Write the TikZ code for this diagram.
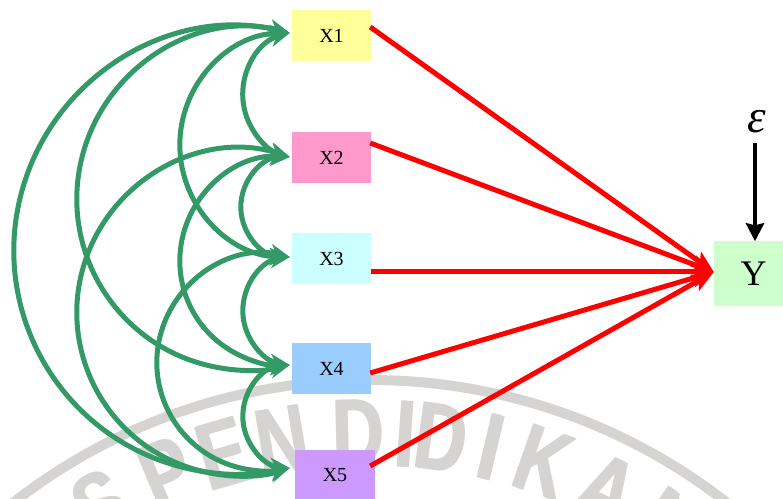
\documentclass[tikz,border=0pt]{standalone}
\usepackage{graphicx}
\usepackage{fontspec}
\setmainfont{Liberation Serif}
\newfontfamily\wmfont{Liberation Sans}
\usetikzlibrary{arrows.meta,calc}

\definecolor{fillA}{HTML}{FFFF99}
\definecolor{fillB}{HTML}{FF99CC}
\definecolor{fillC}{HTML}{CCFFFF}
\definecolor{fillD}{HTML}{99CCFF}
\definecolor{fillE}{HTML}{CC99FF}
\definecolor{fillY}{HTML}{CCFFCC}
\definecolor{corrgreen}{HTML}{339966}
\definecolor{wmgray}{RGB}{213,212,211}

% heavy, narrow seal letter: the glyph set twice, slightly apart
\newcommand\sealchar[1]{\scalebox{0.74}[1]{\rlap{#1}\kern3pt#1}}

\tikzset{
  var/.style={minimum width=79pt, minimum height=51pt, inner sep=0pt,
              font=\fontsize{20}{24}\selectfont},
  corr/.style={draw=corrgreen, line width=5pt,
               {Stealth[length=20pt,width=17pt,inset=6pt]}-{Stealth[length=20pt,width=17pt,inset=6pt]}},
  effect/.style={draw=red, line width=5pt,
                 -{Stealth[length=22pt,width=18pt,inset=5pt]}},
  errarrow/.style={draw=black, line width=4.5pt,
                   -{Stealth[length=18pt,width=18pt,inset=2pt]}},
  wmletter/.style={text=wmgray, inner sep=0pt,
                   font=\wmfont\bfseries\fontsize{96}{96}\selectfont},
}

% double-headed correlation arc on the left of two stacked variables:
% #1 upper end, #2 lower end, #3 how far the arc bulges to the left
\newcommand\corrarc[3]{%
  \path (#1); \pgfgetlastxy{\cxa}{\cya}%
  \path (#2); \pgfgetlastxy{\cxb}{\cyb}%
  \pgfmathsetmacro\chh{(\cya-\cyb)/2}%
  \pgfmathsetmacro\crr{0.5*(\chh/#3)*\chh+0.5*#3}%
  \pgfmathsetmacro\cth{atan2(\chh,#3-\crr)}%
  \draw[corr] (#1) arc[start angle=\cth, end angle=360-\cth, radius=\crr pt];%
}

\begin{document}
\begin{tikzpicture}[x=1pt,y=1pt]
\useasboundingbox (0,0) rectangle (783,498);
\clip (0,0) rectangle (783,498);

% faint seal in the background
\coordinate (wmc) at (370,-462);
\draw[wmgray, line width=10pt] (wmc) ++(135:580) arc[start angle=135, end angle=45, radius=580];
\foreach \ch/\a [count=\i] in {S/30.5, P/22.7, E/16.2, N/9.6, D/1.3, I/-3.9, D/-7.8, I/-13.3, K/-19.2, A/-26.8, N/-34.5}
  \node[wmletter, rotate=\a, anchor=base] (wm\i) at ($(wmc)+(90+\a:494)$) {\sealchar{\ch}};

% variables
\node[var, fill=fillA] (x1) at (331.5,462.5) {X1};
\node[var, fill=fillB] (x2) at (331.5,340.5) {X2};
\node[var, fill=fillC] (x3) at (331.5,239.5) {X3};
\node[var, fill=fillD] (x4) at (331.5,129.5) {X4};
\node[var, fill=fillE, minimum width=80pt] (x5) at (335,22.5) {X5};
\node[fill=fillY, minimum width=79pt, minimum height=65pt, inner sep=0pt,
      font=\fontsize{36}{40}\selectfont] (y) at (753.5,224) {Y};
\node[inner sep=0pt, font=\fontsize{47}{50}\selectfont\itshape] (eps) at (757,376) {ε};

% ends of the correlation arcs
\coordinate (g1) at ([xshift=-2pt, yshift=2.5pt]x1.west);
\coordinate (g2) at ([xshift=-2pt, yshift=0.5pt]x2.west);
\coordinate (g3) at ([xshift=-2pt, yshift=1.5pt]x3.west);
\coordinate (g4) at ([xshift=-2pt, yshift=3.5pt]x4.west);
\coordinate (g5) at ([xshift=-5pt, yshift=7.5pt]x5.west);

% correlations between the predictors
\corrarc{g1}{g5}{276}
\corrarc{g1}{g4}{213}
\corrarc{g2}{g5}{213}
\corrarc{g1}{g3}{110}
\corrarc{g2}{g4}{110}
\corrarc{g3}{g5}{133}
\corrarc{g1}{g2}{47}
\corrarc{g2}{g3}{49}
\corrarc{g3}{g4}{47}
\corrarc{g4}{g5}{47}

% direct effects on Y
\coordinate (yin) at ([yshift=2pt]y.west);
\draw[effect] ([xshift=-1pt, yshift=8.5pt]x1.east) -- (yin);
\draw[effect] ([xshift=-1pt, yshift=14.5pt]x2.east) -- (yin);
\draw[effect] ([yshift=-13.5pt]x3.east) -- (yin);
\draw[effect] ([xshift=-1pt, yshift=-4.5pt]x4.east) -- (yin);
\draw[effect] ([xshift=-5pt, yshift=9.5pt]x5.east) -- (yin);

% error term
\draw[errarrow] ([xshift=-2pt, yshift=-10pt]eps.south) -- ([xshift=-2pt]eps.south |- y.north);
\end{tikzpicture}
\end{document}
